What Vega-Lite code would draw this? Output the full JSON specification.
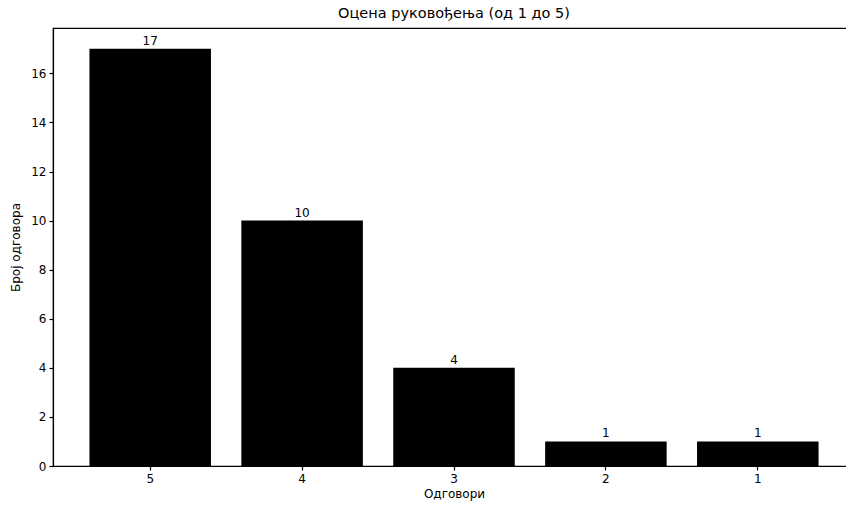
{
  "$schema": "https://vega.github.io/schema/vega-lite/v6.json",
  "autosize": "none",
  "padding": {"left": 53, "top": 28, "right": 0, "bottom": 40},
  "width": 802,
  "height": 438,
  "background": "white",
  "title": {"text": "Оцена руковођења (од 1 до 5)", "font": "DejaVu Sans", "fontSize": 14.5, "fontWeight": "normal", "color": "black", "offset": 7},
  "config": {
    "font": "DejaVu Sans",
    "view": {"stroke": "black", "strokeWidth": 1.2},
    "axis": {"domainColor": "black", "tickColor": "black", "labelColor": "black", "titleColor": "black", "grid": false, "labelFontSize": 12, "titleFontSize": 12, "titleFontWeight": "normal", "tickSize": 4, "domainWidth": 1.2, "tickWidth": 1.2}
  },
  "data": {"values": [
    {"odgovor": "5", "broj": 17},
    {"odgovor": "4", "broj": 10},
    {"odgovor": "3", "broj": 4},
    {"odgovor": "2", "broj": 1},
    {"odgovor": "1", "broj": 1}
  ]},
  "encoding": {
    "x": {"field": "odgovor", "type": "nominal", "sort": null, "scale": {"paddingInner": 0.2, "paddingOuter": 0.24}, "axis": {"title": "Одговори", "labelAngle": 0, "labelPadding": 3, "titlePadding": 4}},
    "y": {"field": "broj", "type": "quantitative", "scale": {"domain": [0, 17.85], "nice": false}, "axis": {"title": "Број одговора", "values": [0, 2, 4, 6, 8, 10, 12, 14, 16], "labelPadding": 3, "titlePadding": 8}}
  },
  "layer": [
    {"mark": {"type": "bar", "color": "black"}},
    {"mark": {"type": "text", "baseline": "bottom", "dy": -1, "fontSize": 12, "color": "black"}, "encoding": {"text": {"field": "broj", "type": "quantitative"}}}
  ]
}
